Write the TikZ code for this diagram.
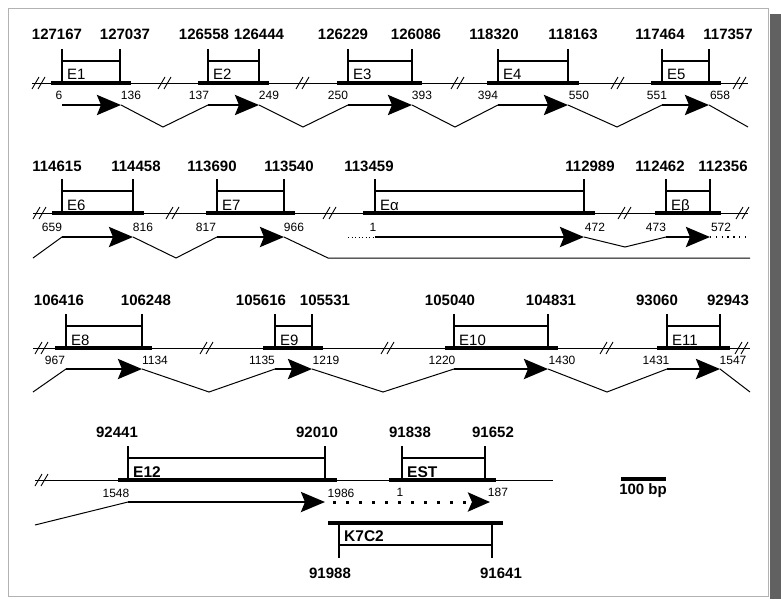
\documentclass[tikz,border=0pt]{standalone}
\usepackage{fontspec}
\setmainfont{Liberation Sans}
\usetikzlibrary{arrows.meta}
\tikzset{
  tickln/.style={line width=1.8pt},
  brkt/.style={line width=1.2pt},
  exbar/.style={line width=3.6pt},
  dna/.style={line width=0.9pt},
  shaft/.style={line width=2.8pt,-{Stealth[length=24pt,width=20pt,inset=4pt]}},
  intron/.style={line width=1pt},
  crd/.style={font=\bfseries\fontsize{15}{15}\selectfont,anchor=base,inner sep=0pt},
  num/.style={font=\fontsize{12}{12}\selectfont,anchor=base,inner sep=0pt},
  exl/.style={font=\fontsize{15}{15}\selectfont,anchor=base west,inner sep=0pt},
  bigl/.style={font=\bfseries\fontsize{15.5}{16}\selectfont,anchor=base west,inner sep=0pt},
  cut/.style={line width=0.9pt},
  smalldots/.style={line width=1pt,dash pattern=on 1pt off 2.5pt},
}
\newcommand\exonbox[7]{%
  \draw[tickln] (#3,#2-34) -- (#3,#2);
  \draw[tickln] (#4,#2-34) -- (#4,#2);
  \draw[brkt] (#3,#2-22) -- (#4,#2-22);
  \draw[exbar] (#5,#2) -- (#6,#2);
  \node[exl] (#1) at (#3+5,#2-3) {#7};
}
\newcommand\cutmark[2]{%
  \draw[cut] (#1-7,#2+6) -- (#1,#2-6);
  \draw[cut] (#1-1,#2+6) -- (#1+6,#2-6);
}
\begin{document}
\begin{tikzpicture}[x=1pt,y=-1pt]
\useasboundingbox (0,0) rectangle (781,599);
\fill[white] (0,0) rectangle (781,599);
\fill[black!62] (770,14) rectangle (781,599);
\draw[gray!60,line width=0.8pt] (8,8) rectangle (768,596);

% ---------------- Row 1 ----------------
\draw[dna] (32,83) -- (748,83);
\foreach \cx in {39,165,303,458,618,740} {\cutmark{\cx}{83}}
\exonbox{E1}{83}{62}{120}{51}{131}{E1}
\exonbox{E2}{83}{208}{259}{198}{269}{E2}
\exonbox{E3}{83}{348}{412}{337}{422}{E3}
\exonbox{E4}{83}{498}{568}{487}{579}{E4}
\exonbox{E5}{83}{662}{709}{651}{721}{E5}
\node[crd] (t1a) at (57,40) {127167};
\node[crd] (t1b) at (125,40) {127037};
\node[crd] (t2a) at (204,40) {126558};
\node[crd] (t2b) at (259,40) {126444};
\node[crd] (t3a) at (343,40) {126229};
\node[crd] (t3b) at (416,40) {126086};
\node[crd] (t4a) at (494,40) {118320};
\node[crd] (t4b) at (573,40) {118163};
\node[crd] (t5a) at (660,40) {117464};
\node[crd] (t5b) at (728,40) {117357};
\node[num] (n6) at (59,100) {6};
\node[num] (n136) at (131,100) {136};
\node[num] (n137) at (199,100) {137};
\node[num] (n249) at (269,100) {249};
\node[num] (n250) at (338,100) {250};
\node[num] (n393) at (422,100) {393};
\node[num] (n394) at (488,100) {394};
\node[num] (n550) at (579,100) {550};
\node[num] (n551) at (657,100) {551};
\node[num] (n658) at (720,100) {658};
\coordinate (a1s) at (62,105);  \coordinate (a1e) at (121,105);
\coordinate (a2s) at (208,105); \coordinate (a2e) at (259,105);
\coordinate (a3s) at (348,105); \coordinate (a3e) at (412,105);
\coordinate (a4s) at (498,105); \coordinate (a4e) at (568,105);
\coordinate (a5s) at (662,105); \coordinate (a5e) at (709,105);
\coordinate (z1) at (163,127); \coordinate (z2) at (303,127);
\coordinate (z3) at (455,127); \coordinate (z4) at (617,127);
\coordinate (z5) at (748,127);
\draw[intron] (a1e) -- (z1) -- (a2s);
\draw[intron] (a2e) -- (z2) -- (a3s);
\draw[intron] (a3e) -- (z3) -- (a4s);
\draw[intron] (a4e) -- (z4) -- (a5s);
\draw[intron] (a5e) -- (z5);
\foreach \s/\e in {a1s/a1e,a2s/a2e,a3s/a3e,a4s/a4e,a5s/a5e} {\draw[shaft] (\s) -- (\e);}

% ---------------- Row 2 ----------------
\draw[dna] (33,213) -- (748,213);
\foreach \cx in {40,173,330,625,743} {\cutmark{\cx}{213}}
\exonbox{E6}{213}{62}{133}{52}{144}{E6}
\exonbox{E7}{213}{217}{284}{206}{295}{E7}
\exonbox{Ea}{213}{375}{584}{363}{595}{Eα}
\exonbox{Eb}{213}{666}{710}{655}{721}{Eβ}
\node[crd] (t6a) at (57,171) {114615};
\node[crd] (t6b) at (136,171) {114458};
\node[crd] (t7a) at (212,171) {113690};
\node[crd] (t7b) at (289,171) {113540};
\node[crd] (taa) at (369,171) {113459};
\node[crd] (tab) at (590,171) {112989};
\node[crd] (tba) at (660,171) {112462};
\node[crd] (tbb) at (723,171) {112356};
\node[num] (n659) at (52,231) {659};
\node[num] (n816) at (143,231) {816};
\node[num] (n817) at (206,231) {817};
\node[num] (n966) at (294,231) {966};
\node[num] (n1a) at (373,231) {1};
\node[num] (n472) at (595,231) {472};
\node[num] (n473) at (656,231) {473};
\node[num] (n572) at (721,231) {572};
\coordinate (i2) at (33,258);
\coordinate (a6s) at (62,237);  \coordinate (a6e) at (133,237);
\coordinate (a7s) at (217,237); \coordinate (a7e) at (284,237);
\coordinate (aas) at (375,237); \coordinate (aae) at (584,237);
\coordinate (abs) at (666,237); \coordinate (abe) at (710,237);
\coordinate (z6) at (176,258); \coordinate (z7) at (328,258);
\coordinate (z7r) at (750,258);
\coordinate (za) at (625,247);
\coordinate (da) at (348,237); \coordinate (db) at (748,237);
\draw[intron] (i2) -- (a6s);
\draw[intron] (a6e) -- (z6) -- (a7s);
\draw[intron] (a7e) -- (z7) -- (z7r);
\draw[intron] (aae) -- (za) -- (abs);
\draw[smalldots] (da) -- (aas);
\draw[line width=1.1pt,dash pattern=on 1.3pt off 4.5pt] (abe) -- (db);
\foreach \s/\e in {a6s/a6e,a7s/a7e,aas/aae,abs/abe} {\draw[shaft] (\s) -- (\e);}

% ---------------- Row 3 ----------------
\draw[dna] (33,348) -- (750,348);
\foreach \cx in {42,207,388,607,742} {\cutmark{\cx}{348}}
\exonbox{E8}{348}{66}{142}{55}{152}{E8}
\exonbox{E9}{348}{275}{312}{263}{323}{E9}
\exonbox{E10}{348}{454}{548}{445}{558}{E10}
\exonbox{E11}{348}{667}{720}{657}{730}{E11}
\node[crd] (t8a) at (59,305) {106416};
\node[crd] (t8b) at (146,305) {106248};
\node[crd] (t9a) at (261,305) {105616};
\node[crd] (t9b) at (325,305) {105531};
\node[crd] (t10a) at (450,305) {105040};
\node[crd] (t10b) at (551,305) {104831};
\node[crd] (t11a) at (657,305) {93060};
\node[crd] (t11b) at (728,305) {92943};
\node[num] (n967) at (55,364) {967};
\node[num] (n1134) at (155,364) {1134};
\node[num] (n1135) at (262,364) {1135};
\node[num] (n1219) at (326,364) {1219};
\node[num] (n1220) at (442,364) {1220};
\node[num] (n1430) at (562,364) {1430};
\node[num] (n1431) at (656,364) {1431};
\node[num] (n1547) at (733,364) {1547};
\coordinate (i3) at (33,392);
\coordinate (a8s) at (66,369);   \coordinate (a8e) at (142,369);
\coordinate (a9s) at (275,369);  \coordinate (a9e) at (312,369);
\coordinate (a10s) at (454,369); \coordinate (a10e) at (548,369);
\coordinate (a11s) at (667,369); \coordinate (a11e) at (720,369);
\coordinate (z8) at (209,392); \coordinate (z9) at (383,392);
\coordinate (z10) at (607,392); \coordinate (z11) at (750,392);
\draw[intron] (i3) -- (a8s);
\draw[intron] (a8e) -- (z8) -- (a9s);
\draw[intron] (a9e) -- (z9) -- (a10s);
\draw[intron] (a10e) -- (z10) -- (a11s);
\draw[intron] (a11e) -- (z11);
\foreach \s/\e in {a8s/a8e,a9s/a9e,a10s/a10e,a11s/a11e} {\draw[shaft] (\s) -- (\e);}

% ---------------- Row 4 ----------------
\draw[dna] (35,480) -- (553,480);
\cutmark{42}{480}
\exonbox{E12}{480}{128}{325}{118}{337}{\textbf{\fontsize{15.5}{16}\selectfont E12}}
\exonbox{EST}{480}{402}{485}{389}{496}{\textbf{\fontsize{15.5}{16}\selectfont EST}}
\node[crd] (t12a) at (117,437) {92441};
\node[crd] (t12b) at (317,437) {92010};
\node[crd] (tesa) at (410,437) {91838};
\node[crd] (tesb) at (493,437) {91652};
\node[num] (n1548) at (116,497) {1548};
\node[num] (n1986) at (341,497) {1986};
\node[num] (n1b) at (400,496) {1};
\node[num] (n187) at (498,496) {187};
\coordinate (i4) at (35,525);
\coordinate (a12s) at (128,502); \coordinate (a12e) at (325,502);
\coordinate (ests) at (333,502); \coordinate (este) at (490,502);
\draw[intron] (i4) -- (a12s);
\draw[shaft] (a12s) -- (a12e);
\draw[line width=3pt,dash pattern=on 3pt off 10pt,-{Stealth[length=22pt,width=19pt,inset=4pt]}] (ests) -- (este);
% K7C2
\draw[exbar] (328,523) -- (503,523);
\draw[tickln] (339,523) -- (339,558);
\draw[tickln] (492,523) -- (492,558);
\draw[brkt] (339,545) -- (492,545);
\node[bigl] (K7C2) at (344,541) {K7C2};
\node[crd] (tka) at (330,578) {91988};
\node[crd] (tkb) at (501,578) {91641};
% scale bar
\draw[line width=3.5pt] (621,479) -- (666,479);
\node[crd] (scale) at (643,494) {100 bp};
\end{tikzpicture}
\end{document}
